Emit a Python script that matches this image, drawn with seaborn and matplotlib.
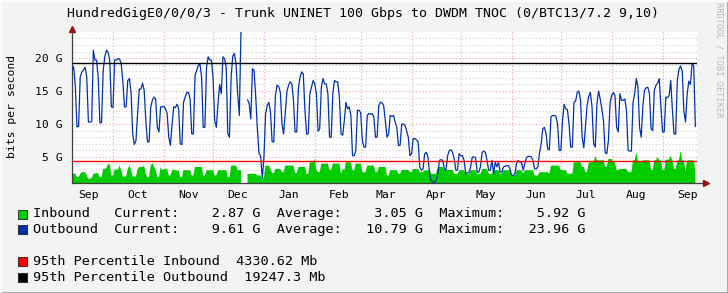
import numpy as np
import pandas as pd
import matplotlib
matplotlib.use("Agg")
import matplotlib.pyplot as plt
import matplotlib.dates as mdates
from matplotlib.ticker import MultipleLocator, FuncFormatter, NullFormatter
from matplotlib.patches import Rectangle
from matplotlib.lines import Line2D
import seaborn as sns

# ---------------- data (Gbit/s, one value per day) ----------------
start_date = "2018-09-06"
nan = float("nan")

outbound = [
    18.1, 18.7, 15.9, 9.6, 9.6, 17.1, 17.9, 18.2, 18.6, 17.1,
    10.3, 10.3, 10.4, 21.2, 19.7, 19.7, 16.9, 10.2, 10.2, 18.1,
    20.2, 21.2, 20.9, 19.7, 12.6, 12.5, 19.7, 19.7, 19.9, 19.9,
    19.1, 16.4, 12.6, 12.6, 16.6, 16.9, 14.8, 8.5, 6.9, 7.5,
    11.6, 15.3, 15.3, 16.2, 15.1, 10.5, 7.3, 7.3, 12.6, 13.6,
    14.1, 13.8, 9.5, 8.8, 12.6, 12.6, 12.7, 12.3, 11.6, 8.0,
    6.75, 10.0, 12.6, 12.5, 13.0, 12.3, 7.0, 6.9, 13.3, 14.1,
    14.8, 14.8, 13.8, 8.5, 8.5, 17.4, 18.1, 18.9, 19.1, 17.1,
    9.5, 9.5, 18.6, 20.2, 19.7, 19.7, 16.9, 10.5, 9.5, 13.1,
    16.0, 14.6, 20.2, 19.9, 18.6, 8.5, 8.0, 17.1, 20.3, 20.7,
    19.1, 14.6, 11.3, 23.96, nan, nan, nan, 13.7, 13.1, 10.8,
    18.4, 18.1, 14.1, 9.3, 5.5, 5.2, 1.7, 5.0, 11.5, 12.8,
    13.3, 11.8, 7.3, 7.3, 14.3, 15.9, 15.7, 14.8, 10.0, 8.5,
    11.6, 14.9, 15.9, 16.4, 16.1, 13.6, 8.8, 8.8, 15.4, 17.1,
    17.9, 17.6, 12.1, 8.5, 8.5, 14.6, 15.6, 16.6, 16.1, 14.6,
    8.9, 9.3, 15.6, 16.9, 16.1, 16.1, 14.6, 8.0, 8.0, 14.6,
    16.6, 16.4, 16.4, 14.1, 8.5, 8.3, 10.5, 13.3, 12.3, 12.6,
    11.3, 5.2, 5.2, 6.0, 12.1, 12.1, 11.7, 7.5, 6.5, 6.5,
    11.3, 11.6, 11.5, 11.6, 11.1, 8.0, 8.0, 12.8, 13.3, 13.2,
    12.8, 10.5, 8.0, 8.5, 11.3, 11.2, 11.3, 10.3, 9.5, 6.75,
    6.75, 10.0, 10.0, 9.8, 9.0, 8.0, 5.2, 5.5, 7.8, 7.8,
    7.6, 7.3, 3.5, 3.0, 3.2, 5.5, 5.7, 5.0, 2.5, 1.3,
    1.2, 1.2, 1.45, 2.5, 4.5, 4.6, 4.5, 3.2, 3.0, 5.2,
    6.0, 6.1, 5.7, 4.7, 3.0, 3.0, 5.5, 5.2, 5.2, 4.5,
    2.5, 2.6, 2.7, 3.5, 5.0, 5.0, 4.9, 2.7, 2.7, 3.5,
    5.7, 5.9, 5.7, 4.5, 3.0, 3.0, 4.5, 2.5, 4.2, 3.5,
    4.2, 2.7, 2.7, 3.5, 3.6, 3.7, 3.7, 3.2, 2.2, 2.2,
    2.5, 4.0, 4.5, 4.2, 4.2, 3.0, 4.0, 4.9, 5.1, 5.1,
    5.0, 4.5, 3.2, 3.2, 3.5, 5.6, 7.0, 9.3, 9.5, 8.5,
    6.2, 6.1, 11.1, 11.3, 11.3, 11.2, 10.0, 6.0, 6.0, 10.5,
    13.0, 12.3, 12.2, 10.0, 6.5, 6.5, 13.3, 13.5, 14.8, 15.0,
    13.6, 8.0, 6.4, 9.5, 12.8, 14.2, 14.8, 12.6, 7.0, 6.5,
    13.1, 15.0, 13.8, 12.3, 10.5, 5.7, 5.5, 7.5, 13.2, 14.3,
    14.8, 14.3, 9.5, 8.8, 14.6, 13.6, 13.6, 13.8, 12.1, 6.0,
    5.9, 5.9, 13.3, 14.6, 16.9, 15.6, 9.5, 8.0, 12.8, 15.1,
    15.5, 15.6, 14.6, 9.3, 9.0, 15.1, 15.9, 16.2, 16.9, 12.6,
    8.8, 8.8, 14.1, 14.0, 14.3, 16.6, 12.1, 8.5, 8.5, 16.6,
    18.3, 18.8, 18.0, 12.0, 10.3, 14.5, 16.5, 16.0, 19.2, 18.8,
    9.61,
]

inbound = [
    2.45, 2.5, 2.5, 1.95, 1.95, 2.4, 2.7, 2.7, 2.7, 2.2,
    1.7, 1.7, 1.8, 2.45, 2.5, 2.6, 2.45, 1.95, 1.95, 3.2,
    3.2, 3.4, 3.9, 3.9, 2.2, 2.2, 3.1, 3.1, 3.1, 3.7,
    3.0, 2.05, 2.05, 2.05, 3.2, 3.7, 3.0, 2.05, 2.05, 2.05,
    3.2, 3.5, 3.5, 3.5, 3.7, 2.45, 1.95, 1.95, 3.7, 4.1,
    3.5, 3.0, 2.05, 1.95, 3.5, 3.0, 3.2, 3.2, 3.2, 2.2,
    2.2, 3.0, 3.1, 3.0, 2.9, 3.0, 1.95, 1.95, 3.0, 3.0,
    3.0, 3.0, 3.0, 2.2, 2.2, 3.5, 3.5, 3.5, 3.5, 3.5,
    2.2, 2.2, 3.0, 3.0, 3.0, 3.0, 3.0, 2.2, 2.2, 3.0,
    3.0, 3.0, 3.0, 3.0, 3.0, 1.95, 1.95, 3.7, 3.7, 3.7,
    3.7, 3.0, 3.0, 3.0, nan, nan, nan, 2.45, 2.45, 2.45,
    2.45, 2.45, 2.45, 2.2, 2.2, 2.2, 1.45, 1.95, 3.7, 3.7,
    3.7, 3.2, 2.55, 2.55, 3.2, 3.2, 3.2, 3.2, 2.7, 2.7,
    3.7, 3.7, 3.7, 3.7, 3.7, 3.7, 2.55, 2.55, 3.5, 3.5,
    3.5, 3.5, 3.5, 2.45, 2.45, 4.2, 4.2, 4.2, 4.7, 3.0,
    2.7, 2.7, 4.0, 4.0, 4.0, 4.0, 4.0, 3.05, 3.05, 4.0,
    4.0, 4.0, 4.0, 4.0, 2.45, 3.2, 3.0, 4.2, 4.2, 4.2,
    4.2, 3.0, 3.0, 4.0, 4.0, 4.0, 4.0, 2.7, 2.7, 2.7,
    3.7, 3.7, 3.7, 3.7, 3.7, 2.7, 2.7, 3.5, 3.5, 3.5,
    3.5, 3.5, 2.2, 2.2, 3.0, 3.0, 3.0, 3.0, 3.0, 2.45,
    2.45, 3.05, 3.05, 3.05, 3.05, 3.05, 2.7, 2.7, 3.2, 3.2,
    3.2, 3.2, 2.7, 2.7, 2.7, 3.0, 3.0, 3.0, 3.0, 2.45,
    2.45, 2.45, 2.45, 3.5, 3.5, 3.5, 3.5, 3.0, 3.0, 3.05,
    3.05, 3.05, 3.05, 2.45, 2.45, 2.45, 3.0, 3.0, 3.0, 3.0,
    2.45, 2.45, 2.45, 3.0, 3.0, 3.0, 3.0, 2.45, 2.45, 2.45,
    3.2, 3.2, 3.2, 3.2, 2.45, 2.45, 2.45, 3.0, 3.0, 3.0,
    3.0, 2.45, 2.45, 3.0, 3.0, 3.0, 3.0, 3.0, 2.2, 2.2,
    2.2, 3.0, 3.0, 3.0, 3.0, 2.45, 3.0, 3.0, 3.0, 3.0,
    3.0, 3.0, 2.2, 2.2, 2.2, 2.7, 2.7, 2.7, 2.7, 2.7,
    2.7, 2.45, 3.7, 3.7, 3.7, 3.7, 3.7, 3.7, 3.0, 3.0,
    3.0, 3.0, 2.45, 2.45, 2.45, 2.45, 4.2, 4.2, 4.2, 4.2,
    4.2, 3.5, 3.5, 2.7, 2.7, 4.2, 4.2, 4.2, 4.2, 5.2,
    4.5, 4.5, 4.5, 4.5, 4.5, 3.5, 3.5, 4.7, 4.7, 4.7,
    4.2, 4.2, 3.0, 3.0, 3.2, 3.2, 3.2, 3.2, 3.2, 2.7,
    2.7, 2.7, 4.5, 4.5, 5.7, 4.5, 4.2, 4.2, 4.5, 4.5,
    4.5, 4.5, 4.5, 3.05, 3.05, 4.5, 4.5, 5.0, 4.5, 4.5,
    3.0, 3.0, 4.6, 4.6, 4.6, 5.2, 4.5, 3.2, 3.2, 4.5,
    4.5, 5.92, 4.5, 4.5, 2.85, 4.5, 4.5, 4.5, 4.5, 4.5,
    2.87,
]

pct95_inbound = 4.33062     # G  (4330.62 Mb)
pct95_outbound = 19.2473    # G  (19247.3 Mb)

title = "HundredGigE0/0/0/3 - Trunk UNINET 100 Gbps to DWDM TNOC (0/BTC13/7.2 9,10)"
legend_rows = [
    ("#00CC00", "Inbound   Current:    2.87 G  Average:    3.05 G  Maximum:    5.92 G"),
    ("#0033AA", "Outbound  Current:    9.61 G  Average:   10.79 G  Maximum:   23.96 G"),
    ("#FF0000", "95th Percentile Inbound  4330.62 Mb"),
    ("#000000", "95th Percentile Outbound  19247.3 Mb"),
]

# ---------------- build frame ----------------
dates = pd.date_range(start_date, periods=len(outbound), freq="D")
df = pd.DataFrame({"date": dates, "inbound": inbound, "outbound": outbound})
df["seg"] = df["outbound"].isna().cumsum()

sns.set_theme(style="white")
plt.rcParams["font.family"] = ["DejaVu Sans Mono", "DejaVu Sans"]

W, H = 728, 293
fig = plt.figure(figsize=(W / 100, H / 100), dpi=100, facecolor="#F3F3F3")
ax = fig.add_axes([72 / W, 110 / H, 625 / W, 151 / H])
ax.set_facecolor("white")

# inbound area
ax.fill_between(df["date"], 0, df["inbound"], color="#00CC00", lw=0, zorder=2)
# outbound line
sns.lineplot(data=df.dropna(subset=["outbound"]), x="date", y="outbound",
             units="seg", estimator=None, color="#0033AA", lw=0.9,
             ax=ax, legend=False, zorder=3)
# percentiles
ax.axhline(pct95_inbound, color="#FF0000", lw=1.0, zorder=4)
ax.axhline(pct95_outbound, color="#000000", lw=1.0, zorder=4)

ax.set_xlim(dates[0], dates[0] + pd.Timedelta(days=381))
ax.set_ylim(1.06, 23.96)

# axes / grid
ax.xaxis.set_major_locator(mdates.MonthLocator())
ax.xaxis.set_major_formatter(NullFormatter())
ax.xaxis.set_minor_locator(mdates.MonthLocator(bymonthday=16))
ax.xaxis.set_minor_formatter(mdates.DateFormatter("%b"))
ax.yaxis.set_major_locator(MultipleLocator(5))
ax.yaxis.set_minor_locator(MultipleLocator(1))
ax.yaxis.set_major_formatter(FuncFormatter(lambda v, p: f"{int(round(v))} G"))

ax.set_axisbelow(True)
ax.grid(which="major", axis="both", color="#E6A5A5", ls=(0, (1, 2)), lw=0.8)
ax.grid(which="minor", axis="y", color="#CFCFCF", ls=(0, (1, 2)), lw=0.8)
ax.xaxis.grid(False, which="minor")

ax.tick_params(axis="x", which="major", length=3, width=0.8, color="#E08080",
               direction="out")
ax.tick_params(axis="x", which="minor", length=0, pad=5, labelsize=8.2,
               labelcolor="#000000")
ax.tick_params(axis="y", which="major", length=3, width=0.8, color="#404040",
               pad=4, labelsize=8.2, labelcolor="#000000")
ax.tick_params(axis="y", which="minor", length=2, width=0.6, color="#606060")

for s in ("top", "right", "bottom"):
    ax.spines[s].set_visible(False)
ax.spines["left"].set_color("#404040")
ax.spines["left"].set_linewidth(0.9)
ax.set_xlabel("")
ax.set_ylabel("")

# x axis line with arrow, y axis arrow
ax.add_line(Line2D([0, 1.012], [0, 0], transform=ax.transAxes, color="#404040",
                   lw=0.9, clip_on=False, zorder=6))
ax.plot([1.014], [0], marker=">", ms=4, color="#991111", transform=ax.transAxes,
        clip_on=False, zorder=7)
ax.plot([0], [1.02], marker="^", ms=4, color="#991111", transform=ax.transAxes,
        clip_on=False, zorder=7)

# texts
fig.text(363 / W, 1 - 14 / H, title, ha="center", va="center", fontsize=9.5,
         color="#000000")
fig.text(12 / W, 1 - 106 / H, "bits per second", rotation=90, ha="center",
         va="center", fontsize=8.2, color="#000000")
fig.text(719 / W, 1 - 60 / H, "RRDTOOL / TOBI OETIKER", rotation=270,
         ha="center", va="center", fontsize=6.2, color="#B8B8B8")

row_y = [214, 229.5, 261.5, 277.5]
for (col, txt), yy in zip(legend_rows, row_y):
    fig.patches.append(Rectangle((18 / W, 1 - (yy + 4.5) / H), 9 / W, 9 / H,
                                 transform=fig.transFigure, facecolor=col,
                                 edgecolor="#000000", lw=0.5))
    fig.text(33 / W, 1 - yy / H, txt, ha="left", va="center", fontsize=9.7,
             color="#000000")

# outer frame shading
fig.add_artist(Line2D([0, 1], [0.5 / H, 0.5 / H], transform=fig.transFigure,
                      color="#9A9A9A", lw=1.2))
fig.add_artist(Line2D([1 - 0.5 / W, 1 - 0.5 / W], [0, 1], transform=fig.transFigure,
                      color="#9A9A9A", lw=1.2))
fig.add_artist(Line2D([0, 1], [1 - 0.5 / H, 1 - 0.5 / H], transform=fig.transFigure,
                      color="#FFFFFF", lw=1.2))
fig.add_artist(Line2D([0.5 / W, 0.5 / W], [0, 1], transform=fig.transFigure,
                      color="#FFFFFF", lw=1.2))

fig.savefig("out.png", dpi=100, facecolor=fig.get_facecolor())
